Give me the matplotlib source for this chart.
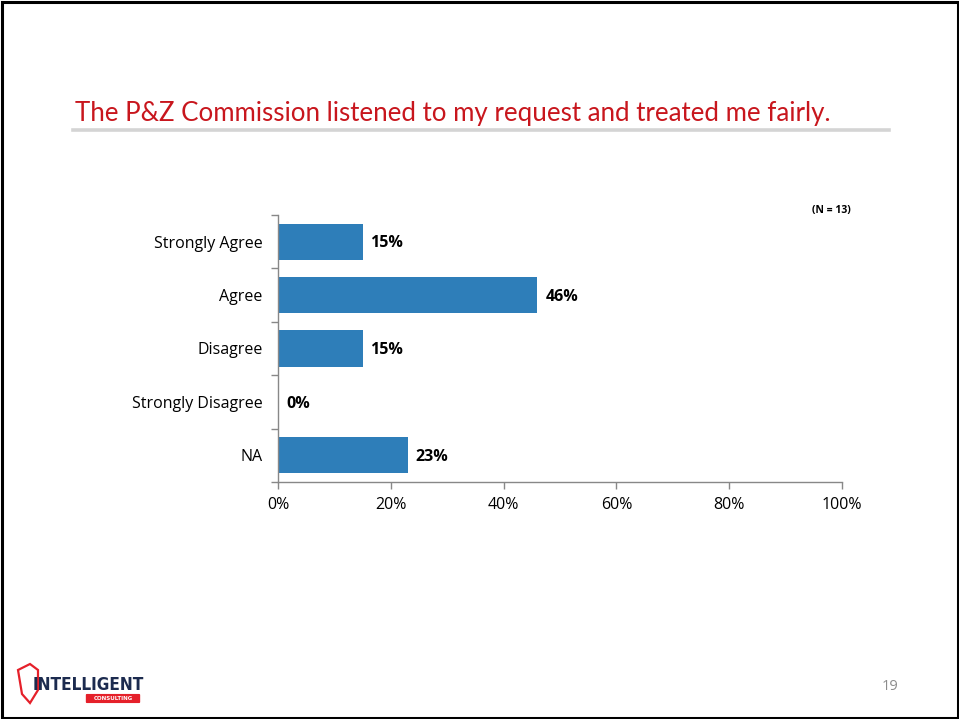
import matplotlib
matplotlib.use("Agg")
import matplotlib.pyplot as plt
from matplotlib.patches import Rectangle, FancyBboxPatch, Polygon

categories = ["Strongly Agree", "Agree", "Disagree", "Strongly Disagree", "NA"]
values = [15, 46, 15, 0, 23]
x_ticks = [0, 20, 40, 60, 80, 100]
x_tick_labels = ["0%", "20%", "40%", "60%", "80%", "100%"]
title = "The P&Z Commission listened to my request and treated me fairly."
sample_note = "(N = 13)"
page_number = "19"

W, H = 959, 719
fig = plt.figure(figsize=(W / 100, H / 100), dpi=100)
fig.patch.set_facecolor("white")

# page frame
fig.add_artist(Rectangle((1.5 / W, 1.5 / H), (W - 3) / W, (H - 3) / H,
                         transform=fig.transFigure, fill=False,
                         edgecolor="black", linewidth=2.2))

# title and rule beneath it
fig.text(75 / W, 1 - 113 / H, title, color="#C8161D", fontsize=18.6,
         family="Lato", fontweight="normal", va="center", ha="left")
fig.add_artist(plt.Line2D([73 / W, 889 / W], [1 - 130 / H, 1 - 130 / H],
                          transform=fig.transFigure, color="#D4D4D4", linewidth=2.6))

# bar chart
ax = fig.add_axes([278 / W, 1 - 482 / H, (842 - 278) / W, (482 - 215) / H])
n = len(categories)
ypos = list(range(n))
bar_color = "#2E7EB9"
ax.barh(ypos, values, height=0.68, color=bar_color)
for y, v in zip(ypos, values):
    ax.text(v + 1.4, y + 0.03, f"{v}%", va="center", ha="left", fontsize=11.5,
            fontweight="bold", family="Open Sans", color="black")

ax.set_xlim(0, 100)
ax.set_ylim(n - 0.5, -0.5)
ax.set_xticks(x_ticks)
ax.set_xticklabels(x_tick_labels, family="Open Sans", fontsize=11.5)
ax.set_yticks(ypos)
ax.set_yticklabels(categories, family="Open Sans", fontsize=11.5)
ax.set_yticks([i - 0.5 for i in range(n + 1)], minor=True)
ax.tick_params(axis="y", which="major", length=0, pad=11)
ax.tick_params(axis="y", which="minor", length=5, color="#888888", width=1)
ax.tick_params(axis="x", which="major", length=5, color="#888888", width=1, pad=6)
for side in ["top", "right"]:
    ax.spines[side].set_visible(False)
for side in ["left", "bottom"]:
    ax.spines[side].set_color("#888888")
    ax.spines[side].set_linewidth(1)

fig.text(831 / W, 1 - 210 / H, sample_note, fontsize=7.5, fontweight="bold",
         family="Open Sans", ha="center", va="center")

# page number
fig.text(890 / W, 1 - 687 / H, page_number, fontsize=10.5, color="#8C8C8C",
         family="Open Sans", ha="center", va="center")

# company logo
navy = "#1C2B4F"
red = "#E5202A"
shield = Polygon([(18 / W, 1 - 670 / H), (30 / W, 1 - 664 / H), (38 / W, 1 - 670 / H),
                  (38 / W, 1 - 690 / H), (30 / W, 1 - 703 / H), (22 / W, 1 - 694 / H)],
                 closed=True, transform=fig.transFigure, fill=False,
                 edgecolor=red, linewidth=1.6)
fig.add_artist(shield)
fig.text(33 / W, 1 - 685 / H, "INTELLIGENT", fontsize=12.3, fontweight="bold",
         family="DejaVu Sans", fontstretch="condensed", color=navy,
         ha="left", va="center")
fig.add_artist(FancyBboxPatch((87 / W, 1 - 702 / H), 52 / W, 7 / H,
                              boxstyle="round,pad=0.0005", transform=fig.transFigure,
                              facecolor=red, edgecolor=red))
fig.text(113 / W, 1 - 698.5 / H, "CONSULTING", fontsize=4, fontweight="bold",
         family="DejaVu Sans", color="white", ha="center", va="center")

fig.savefig("out.png", dpi=100, facecolor="white")
